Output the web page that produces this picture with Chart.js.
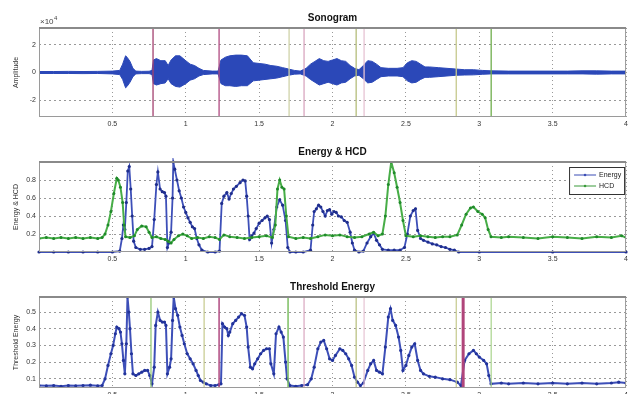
<!DOCTYPE html>
<html>
<head>
<meta charset="utf-8">
<script src="https://cdn.jsdelivr.net/npm/chart.js@4.4.0/dist/chart.umd.min.js"></script>
<style>
  body { margin: 0; background: #fff; width: 631px; height: 394px; overflow: hidden; position: relative; }
  .plot { position: absolute; left: 0; width: 631px; }
</style>
</head>
<body>
<div class="plot" style="top:0;height:131px"><canvas id="sonoChart"></canvas></div>
<div class="plot" style="top:131px;height:134px"><canvas id="energyChart"></canvas></div>
<div class="plot" style="top:265px;height:140px"><canvas id="threshChart"></canvas></div>
<script>
// Sonogram envelope (x10^4)
const waveT = [0, 0.1, 0.2, 0.3, 0.4, 0.5, 0.55, 0.57, 0.59, 0.6, 0.62, 0.64, 0.66, 0.7, 0.75, 0.77, 0.78, 0.8, 0.83, 0.86, 0.88, 0.9, 0.93, 0.96, 1.0, 1.03, 1.06, 1.09, 1.12, 1.18, 1.22, 1.24, 1.27, 1.3, 1.34, 1.38, 1.42, 1.46, 1.5, 1.54, 1.58, 1.62, 1.66, 1.7, 1.74, 1.78, 1.82, 1.85, 1.88, 1.91, 1.94, 1.97, 2.0, 2.03, 2.06, 2.09, 2.12, 2.15, 2.18, 2.21, 2.24, 2.27, 2.3, 2.33, 2.38, 2.44, 2.48, 2.51, 2.54, 2.57, 2.6, 2.63, 2.66, 2.72, 2.78, 2.84, 2.9, 2.96, 3.02, 3.08, 3.2, 3.4, 3.6, 3.7, 3.8, 3.9, 4.0];
const waveTop = [0.07, 0.07, 0.08, 0.07, 0.08, 0.1, 0.15, 0.6, 1.2, 1.1, 0.8, 0.3, 0.1, 0.08, 0.09, 0.15, 0.9, 1.0, 0.85, 0.85, 0.5, 0.9, 1.2, 1.2, 0.85, 0.6, 0.5, 0.3, 0.15, 0.1, 0.1, 0.9, 1.1, 1.2, 1.25, 1.25, 1.2, 0.7, 0.65, 0.6, 0.5, 0.45, 0.35, 0.25, 0.15, 0.1, 0.3, 0.6, 0.8, 1.0, 0.85, 0.8, 0.9, 1.0, 0.85, 0.8, 0.5, 0.3, 0.2, 0.5, 0.85, 0.8, 0.6, 0.35, 0.3, 0.3, 0.35, 0.7, 0.85, 0.8, 0.6, 0.4, 0.4, 0.35, 0.3, 0.25, 0.2, 0.2, 0.15, 0.12, 0.1, 0.1, 0.1, 0.12, 0.12, 0.1, 0.1];
const waveBot = [-0.07, -0.07, -0.07, -0.08, -0.07, -0.1, -0.15, -0.5, -1.1, -1.0, -0.7, -0.3, -0.1, -0.08, -0.08, -0.15, -0.8, -0.9, -0.8, -0.75, -0.45, -0.8, -1.0, -1.05, -0.8, -0.55, -0.45, -0.25, -0.15, -0.1, -0.1, -0.8, -0.95, -0.95, -1.0, -0.95, -0.95, -0.6, -0.55, -0.5, -0.45, -0.4, -0.3, -0.2, -0.12, -0.1, -0.25, -0.5, -0.7, -0.9, -0.8, -0.7, -0.8, -0.9, -0.75, -0.7, -0.45, -0.25, -0.2, -0.45, -0.75, -0.7, -0.5, -0.3, -0.25, -0.25, -0.3, -0.6, -0.75, -0.7, -0.5, -0.35, -0.35, -0.3, -0.25, -0.2, -0.18, -0.17, -0.13, -0.1, -0.1, -0.1, -0.1, -0.1, -0.12, -0.1, -0.1];

// Energy & HCD
const energyT = [0, 0.1, 0.2, 0.3, 0.4, 0.5, 0.55, 0.565, 0.575, 0.585, 0.595, 0.605, 0.615, 0.625, 0.635, 0.645, 0.66, 0.69, 0.72, 0.75, 0.77, 0.785, 0.8, 0.81, 0.825, 0.84, 0.855, 0.865, 0.875, 0.885, 0.9, 0.91, 0.915, 0.925, 0.94, 0.955, 0.97, 0.985, 1.0, 1.015, 1.03, 1.045, 1.06, 1.075, 1.09, 1.11, 1.15, 1.2, 1.23, 1.245, 1.26, 1.28, 1.295, 1.31, 1.325, 1.345, 1.37, 1.39, 1.405, 1.415, 1.425, 1.435, 1.45, 1.465, 1.48, 1.5, 1.52, 1.54, 1.555, 1.57, 1.585, 1.6, 1.62, 1.64, 1.66, 1.68, 1.695, 1.71, 1.75, 1.8, 1.85, 1.865, 1.875, 1.89, 1.905, 1.92, 1.935, 1.95, 1.965, 1.98, 1.995, 2.01, 2.025, 2.04, 2.06, 2.08, 2.1, 2.12, 2.135, 2.15, 2.18, 2.21, 2.235, 2.26, 2.28, 2.3, 2.32, 2.34, 2.38, 2.42, 2.46, 2.49, 2.51, 2.53, 2.55, 2.565, 2.58, 2.6, 2.62, 2.65, 2.68, 2.71, 2.74, 2.77, 2.8, 2.83, 2.86, 3.0, 3.5, 4.0];
const energyV = [0, 0, 0, 0, 0, 0, 0.01, 0.15, 0.3, 0.25, 0.55, 0.9, 0.95, 0.7, 0.4, 0.12, 0.05, 0.03, 0.03, 0.04, 0.06, 0.36, 0.75, 0.89, 0.7, 0.67, 0.66, 0.62, 0.05, 0.1, 0.22, 0.6, 1.0, 0.92, 0.8, 0.68, 0.6, 0.5, 0.44, 0.38, 0.33, 0.28, 0.26, 0.15, 0.08, 0.02, 0, 0, 0.01, 0.54, 0.62, 0.66, 0.59, 0.65, 0.7, 0.73, 0.77, 0.8, 0.79, 0.62, 0.4, 0.14, 0.18, 0.21, 0.26, 0.32, 0.35, 0.38, 0.4, 0.36, 0.1, 0.25, 0.5, 0.58, 0.52, 0.35, 0.05, 0, 0, 0, 0.02, 0.3, 0.45, 0.48, 0.52, 0.5, 0.45, 0.4, 0.46, 0.47, 0.42, 0.45, 0.44, 0.4, 0.39, 0.35, 0.33, 0.22, 0.1, 0.02, 0, 0.01, 0.1, 0.17, 0.21, 0.13, 0.08, 0.03, 0.02, 0.02, 0.02, 0.05, 0.2, 0.4, 0.46, 0.48, 0.24, 0.15, 0.13, 0.11, 0.09, 0.08, 0.06, 0.05, 0.03, 0.02, 0, 0, 0, 0];
const hcdT = [0, 0.05, 0.1, 0.15, 0.2, 0.25, 0.3, 0.35, 0.4, 0.43, 0.45, 0.47, 0.49, 0.51, 0.53, 0.54, 0.555, 0.57, 0.58, 0.59, 0.62, 0.65, 0.67, 0.7, 0.73, 0.75, 0.77, 0.8, 0.83, 0.86, 0.88, 0.9, 0.92, 0.95, 0.98, 1.01, 1.04, 1.08, 1.12, 1.16, 1.2, 1.23, 1.26, 1.3, 1.35, 1.4, 1.45, 1.5, 1.55, 1.59, 1.61, 1.625, 1.64, 1.655, 1.67, 1.685, 1.7, 1.75, 1.8, 1.85, 1.9, 1.95, 2.0, 2.05, 2.1, 2.15, 2.2, 2.25, 2.28, 2.31, 2.34, 2.36, 2.38, 2.4, 2.42, 2.44, 2.46, 2.48, 2.5, 2.55, 2.6, 2.65, 2.7, 2.75, 2.8, 2.85, 2.88, 2.91, 2.94, 2.96, 2.99, 3.02, 3.04, 3.06, 3.08, 3.15, 3.2, 3.3, 3.4, 3.5, 3.6, 3.7, 3.8, 3.9, 3.97, 4.0];
const hcdV = [0.15, 0.16, 0.15, 0.16, 0.15, 0.16, 0.15, 0.16, 0.15, 0.16, 0.2, 0.3, 0.45, 0.65, 0.82, 0.8, 0.72, 0.55, 0.3, 0.17, 0.16, 0.18, 0.25, 0.29, 0.28, 0.22, 0.16, 0.17, 0.15, 0.14, 0.12, 0.1, 0.14, 0.18, 0.2, 0.18, 0.15, 0.16, 0.15, 0.17, 0.16, 0.14, 0.19, 0.17, 0.16, 0.15, 0.16, 0.17, 0.18, 0.16, 0.3, 0.7, 0.8, 0.72, 0.7, 0.4, 0.17, 0.15, 0.16, 0.15, 0.17, 0.19, 0.18, 0.19, 0.17, 0.16, 0.17, 0.2, 0.22, 0.18, 0.2, 0.4, 0.75, 1.0, 0.88, 0.72, 0.55, 0.35, 0.18, 0.17, 0.18, 0.17, 0.16, 0.17, 0.17, 0.19, 0.3, 0.42, 0.49, 0.5, 0.45, 0.42, 0.38, 0.25, 0.17, 0.16, 0.17, 0.16, 0.15, 0.17, 0.16, 0.15, 0.17, 0.16, 0.18, 0.16];

// Threshold energy
const threshT = [0, 0.05, 0.1, 0.15, 0.2, 0.25, 0.3, 0.35, 0.4, 0.43, 0.45, 0.47, 0.49, 0.505, 0.52, 0.53, 0.545, 0.555, 0.565, 0.575, 0.585, 0.595, 0.603, 0.612, 0.62, 0.63, 0.64, 0.66, 0.68, 0.7, 0.72, 0.74, 0.755, 0.77, 0.785, 0.795, 0.81, 0.825, 0.84, 0.855, 0.865, 0.875, 0.89, 0.9, 0.91, 0.918, 0.93, 0.945, 0.96, 0.975, 0.99, 1.01, 1.03, 1.05, 1.07, 1.085, 1.1, 1.12, 1.14, 1.17, 1.2, 1.225, 1.24, 1.25, 1.265, 1.28, 1.29, 1.3, 1.32, 1.34, 1.36, 1.38, 1.4, 1.415, 1.425, 1.44, 1.455, 1.47, 1.49, 1.51, 1.53, 1.55, 1.57, 1.58, 1.6, 1.615, 1.635, 1.65, 1.665, 1.68, 1.69, 1.71, 1.75, 1.79, 1.83, 1.855, 1.875, 1.9, 1.92, 1.94, 1.96, 1.98, 2.0, 2.02, 2.05, 2.07, 2.09, 2.11, 2.13, 2.15, 2.17, 2.19, 2.21, 2.24, 2.26, 2.28, 2.3, 2.32, 2.34, 2.36, 2.38, 2.395, 2.41, 2.43, 2.45, 2.465, 2.48, 2.5, 2.52, 2.54, 2.56, 2.58, 2.6, 2.62, 2.66, 2.7, 2.75, 2.8, 2.85, 2.875, 2.9, 2.93, 2.96, 2.98, 3.0, 3.03, 3.05, 3.065, 3.08, 3.15, 3.2, 3.3, 3.4, 3.5, 3.6, 3.7, 3.8, 3.9, 3.95, 4.0];
const threshV = [0.06, 0.058, 0.06, 0.055, 0.06, 0.058, 0.06, 0.062, 0.058, 0.06, 0.1, 0.18, 0.25, 0.3, 0.37, 0.41, 0.4, 0.38, 0.31, 0.21, 0.13, 0.31, 0.59, 0.5, 0.4, 0.25, 0.13, 0.12, 0.13, 0.14, 0.15, 0.15, 0.12, 0.07, 0.17, 0.42, 0.5, 0.45, 0.44, 0.44, 0.42, 0.13, 0.17, 0.22, 0.45, 0.59, 0.52, 0.48, 0.41, 0.36, 0.31, 0.25, 0.22, 0.19, 0.15, 0.12, 0.09, 0.08, 0.07, 0.06, 0.06, 0.065, 0.07, 0.43, 0.41, 0.4, 0.36, 0.38, 0.43, 0.45, 0.47, 0.49, 0.48, 0.41, 0.29, 0.17, 0.16, 0.19, 0.22, 0.25, 0.27, 0.28, 0.28, 0.19, 0.13, 0.37, 0.41, 0.38, 0.35, 0.2, 0.1, 0.06, 0.055, 0.06, 0.065, 0.1, 0.17, 0.28, 0.32, 0.33, 0.28, 0.22, 0.21, 0.24, 0.28, 0.27, 0.25, 0.22, 0.18, 0.11, 0.08, 0.06, 0.075, 0.15, 0.19, 0.21, 0.15, 0.14, 0.13, 0.29, 0.47, 0.52, 0.45, 0.42, 0.35, 0.27, 0.15, 0.18, 0.24, 0.29, 0.31, 0.21, 0.15, 0.13, 0.115, 0.11, 0.1, 0.095, 0.08, 0.06, 0.21, 0.25, 0.27, 0.25, 0.23, 0.21, 0.19, 0.12, 0.07, 0.075, 0.07, 0.075, 0.07, 0.075, 0.07, 0.075, 0.07, 0.075, 0.08, 0.075];

// Segment boundary markers
const sonoMarkT = [0.777, 1.227, 1.704, 1.806, 2.161, 2.215, 2.843, 3.081];
const sonoMarkColor = ['#a3406f', '#b04a80', '#cfd3a8', '#d9a6bf', '#b5bd7a', '#e6c3d3', '#c5c98c', '#6fae4c'];
const threshMarkT = [0.763, 1.125, 1.227, 1.697, 1.806, 2.161, 2.215, 2.843, 2.89, 3.081];
const threshMarkColor = ['#8cc46a', '#c5c98c', '#b04a80', '#7cbf62', '#d9a6bf', '#b5bd7a', '#e6c3d3', '#c5c98c', '#b0457a', '#a8d48c'];
const threshMarkWidth = [1.2, 1.2, 1.5, 1.5, 1.2, 1.2, 1.2, 1.2, 3, 1.2];

const xTicks = [0.5, 1, 1.5, 2, 2.5, 3, 3.5, 4];
const sonoYTicks = [-2, 0, 2];
const energyYTicks = [0.2, 0.4, 0.6, 0.8];
const threshYTicks = [0.1, 0.2, 0.3, 0.4, 0.5];

const FONT = '"Liberation Sans", Arial, sans-serif';
Chart.defaults.font.family = FONT;
Chart.defaults.animation = false;

function pts(t, v) {
    return t.map((x, i) => ({ x: x, y: v[i] }));
}

function markerSets(times, colors, widths, ymin, ymax) {
    return times.map((t, i) => ({
        data: [{ x: t, y: ymin }, { x: t, y: ymax }],
        borderColor: colors[i],
        borderWidth: widths ? widths[i] : 1.3,
        pointRadius: 0,
        order: 0
    }));
}

// draws title, box and extra text
const decorPlugin = {
    id: 'decor',
    afterDraw(chart, args, opts) {
        const ctx = chart.ctx;
        const a = chart.chartArea;
        ctx.save();
        ctx.strokeStyle = '#9a9a9a';
        ctx.lineWidth = 1;
        ctx.strokeRect(a.left + 0.5, a.top + 0.5, a.right - a.left - 1, a.bottom - a.top - 1);
        ctx.strokeStyle = '#8a8a8a';
        ctx.lineWidth = 2;
        ctx.beginPath();
        ctx.moveTo(a.left, a.top);
        ctx.lineTo(a.right, a.top);
        ctx.stroke();

        ctx.fillStyle = '#111';
        ctx.font = 'bold 10px ' + FONT;
        ctx.textAlign = 'center';
        ctx.textBaseline = 'alphabetic';
        ctx.fillText(opts.title, (a.left + a.right) / 2, a.top - 7);

        if (opts.exponent) {
            ctx.font = '8px ' + FONT;
            ctx.textAlign = 'left';
            ctx.fillStyle = '#444';
            ctx.fillText('\u00d710', a.left + 1, a.top - 4);
            ctx.font = '6px ' + FONT;
            ctx.fillText('4', a.left + 15, a.top - 8);
        }

        if (opts.legend) {
            const bx = a.right - 57, by = a.top + 5, bw = 55, bh = 27;
            ctx.fillStyle = '#fff';
            ctx.fillRect(bx, by, bw, bh);
            ctx.strokeStyle = '#333';
            ctx.lineWidth = 1;
            ctx.strokeRect(bx + 0.5, by + 0.5, bw, bh);
            ctx.font = '7px ' + FONT;
            ctx.textAlign = 'left';
            ctx.textBaseline = 'middle';
            opts.legend.forEach((item, i) => {
                const y = by + 8 + i * 11;
                ctx.strokeStyle = item.color;
                ctx.lineWidth = 1;
                ctx.beginPath();
                ctx.moveTo(bx + 5, y);
                ctx.lineTo(bx + 27, y);
                ctx.stroke();
                ctx.fillStyle = item.color;
                ctx.beginPath();
                ctx.arc(bx + 16, y, 1.3, 0, Math.PI * 2);
                ctx.fill();
                ctx.fillStyle = '#222';
                ctx.fillText(item.label, bx + 30, y + 0.5);
            });
        }
        ctx.restore();
    }
};

function makeOptions(cfg) {
    return {
        responsive: true,
        maintainAspectRatio: false,
        layout: { padding: { top: cfg.top, left: 0, right: 4, bottom: 0 } },
        plugins: {
            legend: { display: false },
            tooltip: { enabled: false },
            decor: { title: cfg.title, exponent: cfg.exponent, legend: cfg.legend }
        },
        elements: { line: { tension: 0 } },
        scales: {
            x: {
                type: 'linear',
                min: 0,
                max: 4,
                afterFit: s => { s.height = cfg.xh; },
                afterBuildTicks: s => { s.ticks = xTicks.map(v => ({ value: v })); },
                ticks: { font: { size: 7 }, color: '#333', padding: 3, maxRotation: 0, callback: v => String(v) },
                grid: { color: 'rgba(70,70,70,0.55)', drawTicks: false },
                border: { display: false, dash: [1, 3] }
            },
            y: {
                min: cfg.ymin,
                max: cfg.ymax,
                afterFit: s => { s.width = 39; },
                afterBuildTicks: s => { s.ticks = cfg.yticks.map(v => ({ value: v })); },
                ticks: { font: { size: 7 }, color: '#333', padding: 3, callback: v => String(v) },
                grid: { color: 'rgba(70,70,70,0.55)', drawTicks: false },
                border: { display: false, dash: [2, 3] },
                title: { display: true, text: cfg.ylabel, font: { size: 7 }, color: '#333', padding: { top: 12, bottom: 0 } }
            }
        }
    };
}

// Sonogram
new Chart(document.getElementById('sonoChart'), {
    type: 'line',
    data: {
        datasets: [
            {
                data: pts(waveT, waveTop),
                borderColor: '#2b48b8', backgroundColor: '#2b48b8',
                borderWidth: 1, pointRadius: 0, fill: '+1', order: 1
            },
            {
                data: pts(waveT, waveBot),
                borderColor: '#2b48b8', borderWidth: 1, pointRadius: 0, fill: false, order: 1
            }
        ].concat(markerSets(sonoMarkT, sonoMarkColor, null, -3.2, 3.2))
    },
    options: makeOptions({ top: 28, xh: 14, ymin: -3.2, ymax: 3.2, yticks: sonoYTicks, ylabel: 'Amplitude', title: 'Sonogram', exponent: true }),
    plugins: [decorPlugin]
});

// Energy & HCD
new Chart(document.getElementById('energyChart'), {
    type: 'line',
    data: {
        datasets: [
            {
                label: 'Energy',
                data: pts(energyT, energyV),
                borderColor: '#3d4fb8', backgroundColor: '#1f2e8c',
                borderWidth: 1.8, pointRadius: 1.6, pointBorderWidth: 0, clip: 4, order: 2
            },
            {
                label: 'HCD',
                data: pts(hcdT, hcdV),
                borderColor: '#47ad47', backgroundColor: '#1f8a2a',
                borderWidth: 2, pointRadius: 1.5, pointBorderWidth: 0, order: 1
            }
        ]
    },
    options: makeOptions({
        top: 31, xh: 13, ymin: 0, ymax: 1, yticks: energyYTicks, ylabel: 'Energy & HCD', title: 'Energy & HCD',
        legend: [{ label: 'Energy', color: '#3b4db5' }, { label: 'HCD', color: '#3a9a3a' }]
    }),
    plugins: [decorPlugin]
});

// Threshold Energy
new Chart(document.getElementById('threshChart'), {
    type: 'line',
    data: {
        datasets: [
            {
                data: pts(threshT, threshV),
                borderColor: '#3d4fb8', backgroundColor: '#22339a',
                borderWidth: 2, pointRadius: 1.6, pointBorderWidth: 0, order: 1
            }
        ].concat(markerSets(threshMarkT, threshMarkColor, threshMarkWidth, 0.045, 0.59))
    },
    options: makeOptions({ top: 32, xh: 17, ymin: 0.045, ymax: 0.59, yticks: threshYTicks, ylabel: 'Threshold Energy', title: 'Threshold Energy' }),
    plugins: [decorPlugin]
});
</script>
</body>
</html>
